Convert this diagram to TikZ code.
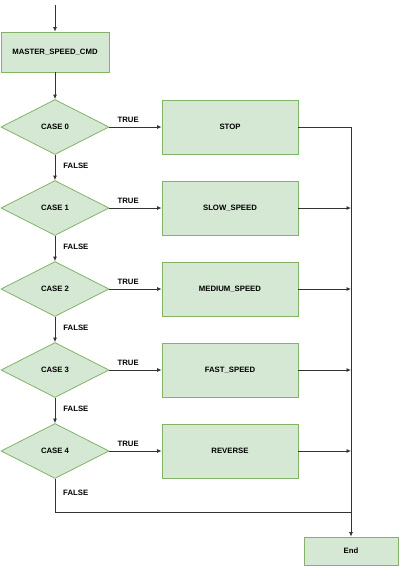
\documentclass[tikz,border=0pt]{standalone}
\usepackage{fontspec}
\setmainfont{Liberation Sans}
\usetikzlibrary{shapes.geometric, arrows.meta}
\definecolor{boxfill}{HTML}{D5E8D4}
\definecolor{boxline}{HTML}{82B366}
\definecolor{wire}{HTML}{333333}
\tikzset{arrow/.style={draw=wire, line width=0.8pt, -{Latex[length=4.5pt,width=4pt]}}}
\tikzset{wireline/.style={draw=wire, line width=0.8pt}}
\tikzset{block/.style={rectangle, draw=boxline, fill=boxfill, line width=0.8pt, inner sep=0pt, font=\fontsize{7.75}{9}\selectfont\bfseries}}
\tikzset{case/.style={diamond, aspect=2, draw=boxline, fill=boxfill, line width=0.8pt, inner sep=0pt, minimum width=108pt, minimum height=55pt, font=\fontsize{7.75}{9}\selectfont\bfseries}}
\tikzset{tag/.style={font=\fontsize{7.75}{9}\selectfont\bfseries, inner sep=1pt}}

\begin{document}
\begin{tikzpicture}[x=1pt, y=-1pt]
          \useasboundingbox (0,0) rectangle (400,566);

          % Node positions
          \coordinate (start) at (55,5);
          \node[block, minimum width=108pt, minimum height=40pt] (master) at (55,52) {MASTER\_SPEED\_CMD};

          \node[case] (c0) at (55,127) {CASE 0};
          \node[case] (c1) at (55,208) {CASE 1};
          \node[case] (c2) at (55,289) {CASE 2};
          \node[case] (c3) at (55,370) {CASE 3};
          \node[case] (c4) at (55,451) {CASE 4};

          \node[block, minimum width=136pt, minimum height=54pt] (stop) at (230,127) {STOP};
          \node[block, minimum width=136pt, minimum height=54pt] (slow) at (230,208) {SLOW\_SPEED};
          \node[block, minimum width=136pt, minimum height=54pt] (medium) at (230,289) {MEDIUM\_SPEED};
          \node[block, minimum width=136pt, minimum height=54pt] (fast) at (230,370) {FAST\_SPEED};
          \node[block, minimum width=136pt, minimum height=54pt] (reverse) at (230,451) {REVERSE};

          \node[block, minimum width=94pt, minimum height=28pt] (done) at (351,551) {End};

          % Merge points
          \coordinate (m1) at (351,208);
          \coordinate (m2) at (351,289);
          \coordinate (m3) at (351,370);
          \coordinate (m4) at (351,451);
          \coordinate (low) at (55,512);
          \coordinate (lowr) at (351,512);

          % Edges
          \draw[arrow] (start) -- (master);
          \draw[arrow] (master) -- (c0);

          \draw[arrow] (c0) -- (c1) node[tag, pos=0.45, right=7pt] {FALSE};
          \draw[arrow] (c1) -- (c2) node[tag, pos=0.45, right=7pt] {FALSE};
          \draw[arrow] (c2) -- (c3) node[tag, pos=0.45, right=7pt] {FALSE};
          \draw[arrow] (c3) -- (c4) node[tag, pos=0.45, right=7pt] {FALSE};

          \draw[arrow] (c0.east) -- (stop.west) node[tag, pos=0.36, above=3pt] {TRUE};
          \draw[arrow] (c1.east) -- (slow.west) node[tag, pos=0.36, above=3pt] {TRUE};
          \draw[arrow] (c2.east) -- (medium.west) node[tag, pos=0.36, above=3pt] {TRUE};
          \draw[arrow] (c3.east) -- (fast.west) node[tag, pos=0.36, above=3pt] {TRUE};
          \draw[arrow] (c4.east) -- (reverse.west) node[tag, pos=0.36, above=3pt] {TRUE};

          \draw[arrow] (stop.east) -| (done.north);
          \draw[arrow] (slow.east) -- (m1);
          \draw[arrow] (medium.east) -- (m2);
          \draw[arrow] (fast.east) -- (m3);
          \draw[arrow] (reverse.east) -- (m4);

          \draw[wireline] (c4.south) -- (low) -- (lowr);
          \node[tag, right=7pt] at (55,493) {FALSE};

        \end{tikzpicture}
\end{document}
